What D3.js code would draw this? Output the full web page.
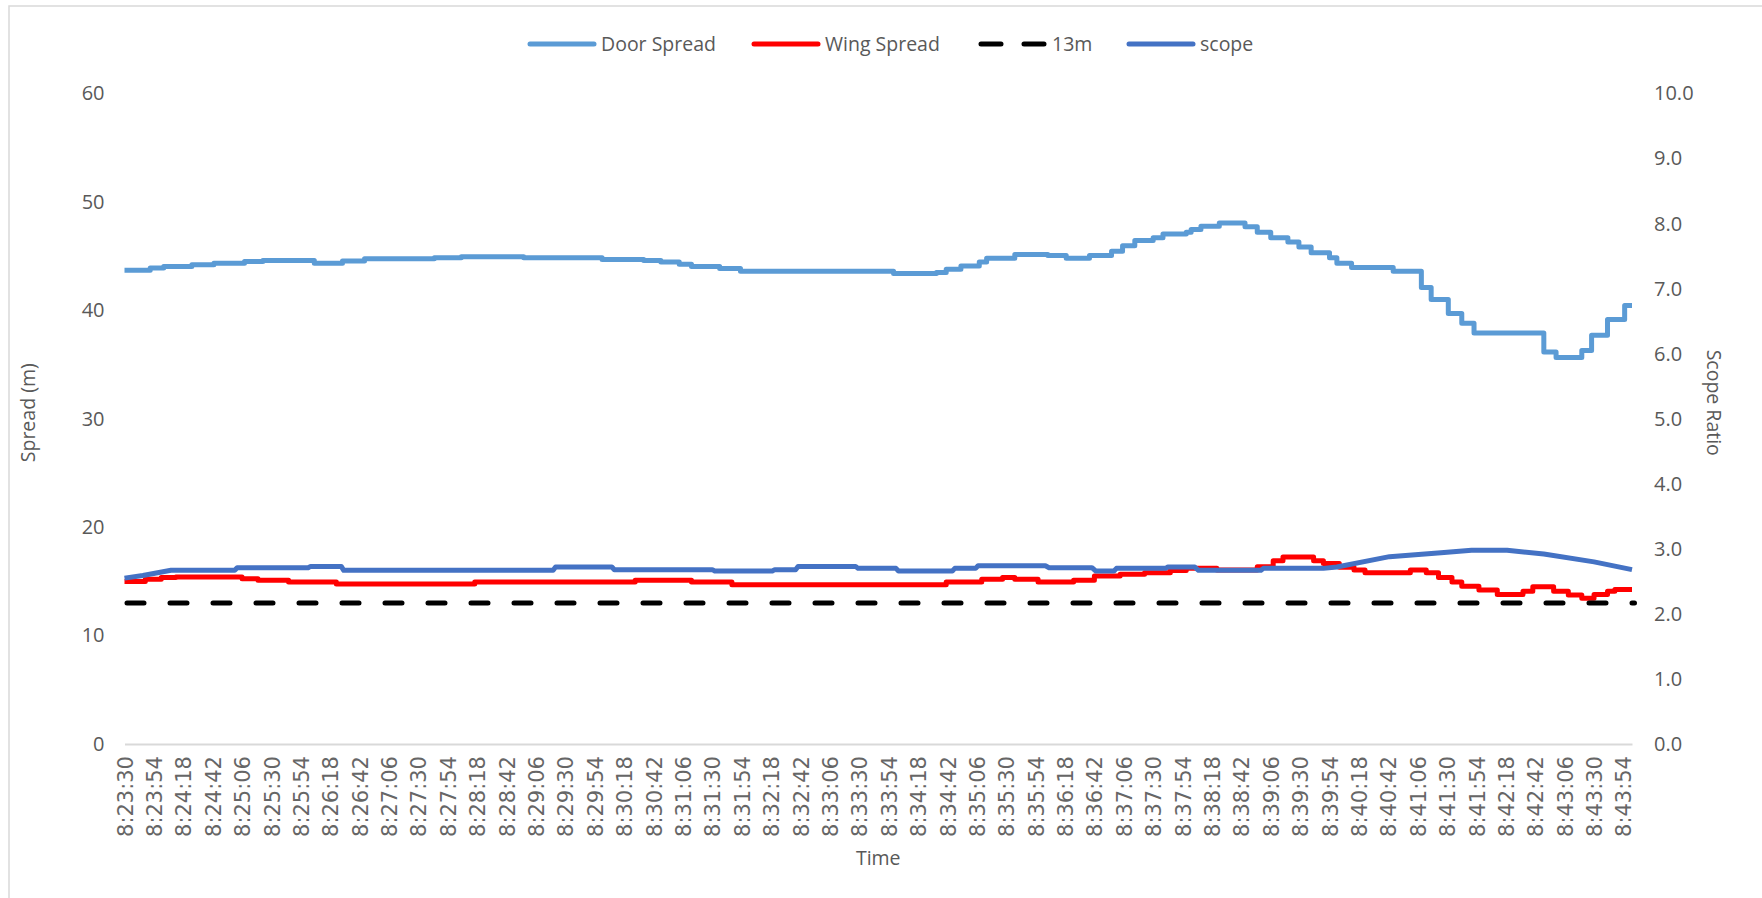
<!DOCTYPE html>
<html>
<head>
<meta charset="utf-8">
<script src="https://cdn.jsdelivr.net/npm/d3@7/dist/d3.min.js"></script>
<style>
  html, body { margin: 0; padding: 0; background: #ffffff; }
  svg { display: block; }
  .tick-num { font-family: "Open Sans", sans-serif; font-size: 20px; fill: #595959; }
  .time-lbl { font-family: "DejaVu Sans", sans-serif; font-size: 21px; fill: #666666; }
  .title { font-family: "Open Sans", sans-serif; font-size: 19.5px; fill: #595959; }
</style>
</head>
<body>
<svg id="chart" width="1762" height="898"></svg>
<script>
// Category labels along the time axis (one every 24 s, starting 8:23:30)
const timeLabels = [
  "8:23:30","8:23:54","8:24:18","8:24:42","8:25:06","8:25:30","8:25:54","8:26:18",
  "8:26:42","8:27:06","8:27:30","8:27:54","8:28:18","8:28:42","8:29:06","8:29:30",
  "8:29:54","8:30:18","8:30:42","8:31:06","8:31:30","8:31:54","8:32:18","8:32:42",
  "8:33:06","8:33:30","8:33:54","8:34:18","8:34:42","8:35:06","8:35:30","8:35:54",
  "8:36:18","8:36:42","8:37:06","8:37:30","8:37:54","8:38:18","8:38:42","8:39:06",
  "8:39:30","8:39:54","8:40:18","8:40:42","8:41:06","8:41:30","8:41:54","8:42:18",
  "8:42:42","8:43:06","8:43:30","8:43:54"
];
const labelStep = 24;        // seconds between labels
const lastSecond = 1231;     // final sample, seconds after 8:23:30

// Door spread (m): seconds after 8:23:30 where the reading changes, and the new value
const doorT = [0, 21, 32, 55, 73, 98, 113, 155, 178, 196, 253, 275, 326, 390, 424, 438, 453, 463, 486, 503,
  628, 663, 671, 683, 698, 704, 727, 754, 769, 788, 806, 815, 825, 840, 848, 867, 871, 879, 894,
  915, 925, 936, 950, 959, 969, 984, 990, 1002, 1036, 1059, 1067, 1081, 1092, 1102, 1159, 1169,
  1190, 1198, 1211, 1225];
const doorV = [43.7, 43.9, 44.05, 44.2, 44.35, 44.5, 44.6, 44.35, 44.55, 44.75, 44.85, 44.95, 44.85, 44.7, 44.6, 44.45, 44.25, 44.05, 43.85, 43.6,
  43.4, 43.5, 43.8, 44.1, 44.45, 44.8, 45.15, 45.05, 44.8, 45.05, 45.45, 45.95, 46.45, 46.7, 47.05, 47.2, 47.45, 47.75, 48.05,
  47.7, 47.2, 46.7, 46.3, 45.85, 45.3, 44.85, 44.35, 43.95, 43.6, 42.1, 41.0, 39.7, 38.8, 37.9, 36.15, 35.65,
  36.3, 37.7, 39.15, 40.45];

// Wing spread (m): change points and values
const wingT = [0, 17, 30, 42, 96, 109, 134, 173, 286, 417, 463, 496, 671, 700, 717, 727, 746, 775, 792, 813,
  833, 854, 867, 892, 925, 938, 946, 971, 979, 992, 1004, 1013, 1050, 1063, 1073, 1084, 1092, 1106, 1121,
  1142, 1150, 1167, 1179, 1190, 1200, 1211, 1217];
const wingV = [15.0, 15.2, 15.35, 15.4, 15.25, 15.1, 14.95, 14.75, 14.95, 15.1, 14.95, 14.7, 14.95, 15.2, 15.35, 15.2, 14.95, 15.1, 15.5, 15.65,
  15.8, 16.0, 16.2, 16.05, 16.35, 16.9, 17.25, 16.9, 16.65, 16.3, 16.05, 15.8, 16.05, 15.8, 15.35, 14.95, 14.55, 14.2, 13.8,
  14.1, 14.5, 14.1, 13.75, 13.45, 13.8, 14.1, 14.25];

// Reference spread line (m)
const limitSpread = 13;

// Scope ratio (secondary axis): sample times and values
const scopeT = [0, 15, 38, 90, 92, 150, 152, 177, 179, 350, 352, 398, 400, 480, 482, 529, 531, 548, 550, 597,
  599, 630, 632, 676, 678, 695, 697, 752, 755, 790, 793, 808, 810, 850, 852, 874, 877, 928, 930, 979,
  990, 1033, 1075, 1100, 1129, 1159, 1200, 1231];
const scopeV = [2.55, 2.59, 2.67, 2.67, 2.71, 2.71, 2.73, 2.73, 2.67, 2.67, 2.72, 2.72, 2.68, 2.68, 2.66, 2.66, 2.68, 2.68, 2.73, 2.73,
  2.70, 2.70, 2.66, 2.66, 2.70, 2.70, 2.74, 2.74, 2.71, 2.71, 2.66, 2.66, 2.70, 2.70, 2.72, 2.72, 2.67, 2.67, 2.70, 2.70,
  2.72, 2.88, 2.94, 2.98, 2.98, 2.92, 2.80, 2.68];

const leftTicks = [0, 10, 20, 30, 40, 50, 60];
const rightTicks = [0, 1, 2, 3, 4, 5, 6, 7, 8, 9, 10];

const colors = { door: "#5B9BD5", wing: "#FF0000", limit: "#000000", scope: "#4472C4" };

const svg = d3.select("#chart");

// Outer chart frame
svg.append("rect").attr("x", 9).attr("y", 6).attr("width", 1800).attr("height", 1000)
  .attr("fill", "none").attr("stroke", "#d9d9d9").attr("stroke-width", 1.5);

const plot = { left: 124.5, right: 1632, top: 93.5, bottom: 744 };

const x = d3.scaleLinear().domain([0, lastSecond]).range([plot.left, plot.right]);
const yL = d3.scaleLinear().domain([0, 60]).range([plot.bottom, plot.top]);
const yR = d3.scaleLinear().domain([0, 10]).range([plot.bottom, plot.top]);

// Left axis
const gL = svg.append("g").attr("transform", `translate(${plot.left - 20},0)`)
  .call(d3.axisLeft(yL).tickValues(leftTicks).tickSize(0).tickPadding(0).tickFormat(d3.format("d")));
gL.select(".domain").remove();
gL.selectAll("text").attr("class", "tick-num").attr("font-family", null).attr("font-size", null);

// Right axis
const gR = svg.append("g").attr("transform", `translate(${plot.right + 22},0)`)
  .call(d3.axisRight(yR).tickValues(rightTicks).tickSize(0).tickPadding(0).tickFormat(d3.format(".1f")));
gR.select(".domain").remove();
gR.selectAll("text").attr("class", "tick-num").attr("font-family", null).attr("font-size", null);

// Bottom (time) axis
const tickSeconds = timeLabels.map((_, i) => i * labelStep);
const gX = svg.append("g").attr("transform", `translate(0,${plot.bottom})`)
  .call(d3.axisBottom(x).tickValues(tickSeconds).tickSize(0).tickPadding(0)
    .tickFormat((d, i) => timeLabels[i]));
gX.select(".domain").attr("stroke", "#d9d9d9").attr("stroke-width", 2);
gX.selectAll("text")
  .attr("class", "time-lbl").attr("font-family", null).attr("font-size", null)
  .attr("transform", "rotate(-90)")
  .attr("text-anchor", "end")
  .attr("x", -12).attr("y", 0).attr("dy", "0.36em");

// Axis titles
svg.append("text").attr("class", "title")
  .attr("transform", `translate(28,${(plot.top + plot.bottom) / 2 - 6}) rotate(-90)`)
  .attr("text-anchor", "middle").attr("dy", "0.35em").text("Spread (m)");
svg.append("text").attr("class", "title")
  .attr("transform", `translate(1714,${(plot.top + plot.bottom) / 2 - 16}) rotate(90)`)
  .attr("text-anchor", "middle").attr("dy", "0.35em").text("Scope Ratio");
svg.append("text").attr("class", "title")
  .attr("x", (plot.left + plot.right) / 2).attr("y", 858)
  .attr("text-anchor", "middle").attr("dy", "0.35em").text("Time");

// Series
const toPoints = (ts, vs, end) => {
  const pts = ts.map((t, i) => [t, vs[i]]);
  if (end !== undefined && ts[ts.length - 1] < end) pts.push([end, vs[vs.length - 1]]);
  return pts;
};

const stepLine = (ys) => d3.line().x(d => x(d[0])).y(d => ys(d[1])).curve(d3.curveStepAfter);
const plainLine = (ys) => d3.line().x(d => x(d[0])).y(d => ys(d[1]));

const lines = svg.append("g").attr("fill", "none");

lines.append("path")
  .attr("d", stepLine(yL)(toPoints(doorT, doorV, lastSecond)))
  .attr("stroke", colors.door).attr("stroke-width", 5).attr("stroke-linejoin", "round");

lines.append("path")
  .attr("d", stepLine(yL)(toPoints(wingT, wingV, lastSecond)))
  .attr("stroke", colors.wing).attr("stroke-width", 5).attr("stroke-linejoin", "round");

lines.append("path")
  .attr("d", plainLine(yL)([[0, limitSpread], [lastSecond, limitSpread]]))
  .attr("stroke", colors.limit).attr("stroke-width", 5)
  .attr("stroke-dasharray", "17,26").attr("stroke-linecap", "round")
  .attr("transform", "translate(2.5,0)");

lines.append("path")
  .attr("d", plainLine(yR)(toPoints(scopeT, scopeV)))
  .attr("stroke", colors.scope).attr("stroke-width", 5).attr("stroke-linejoin", "round");

// Legend
const legendY = 44;
const legendItems = [
  { name: "Door Spread", color: colors.door, x0: 528, dashed: false },
  { name: "Wing Spread", color: colors.wing, x0: 752, dashed: false },
  { name: "13m", color: colors.limit, x0: 979, dashed: true },
  { name: "scope", color: colors.scope, x0: 1127, dashed: false }
];
const lg = svg.append("g");
legendItems.forEach(item => {
  const sample = lg.append("line")
    .attr("x1", item.x0 + 2).attr("x2", item.x0 + 66)
    .attr("y1", legendY).attr("y2", legendY)
    .attr("stroke", item.color).attr("stroke-width", 5).attr("stroke-linecap", "round");
  if (item.dashed) sample.attr("stroke-dasharray", "20,23");
  lg.append("text").attr("class", "title")
    .attr("x", item.x0 + 73).attr("y", legendY).attr("dy", "0.35em")
    .text(item.name);
});
</script>
</body>
</html>
